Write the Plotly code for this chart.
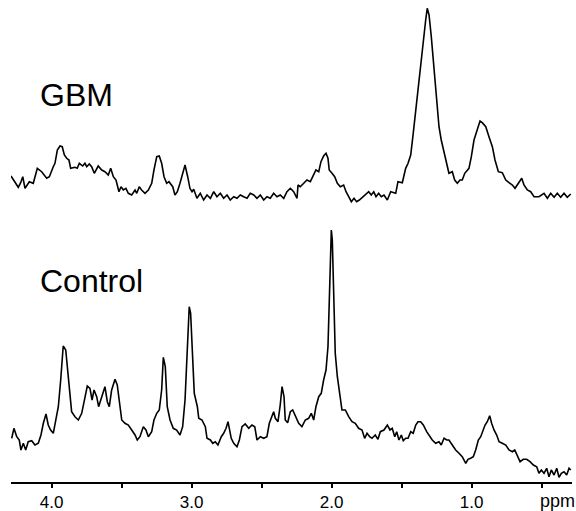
import plotly.graph_objects as go

# ---- GBM spectrum (chemical shift in ppm, intensity relative to its own baseline) ----
gbm_ppm = [
    4.290, 4.274, 4.254, 4.238, 4.221, 4.206, 4.190, 4.174, 4.159, 4.131,
    4.116, 4.102, 4.071, 4.035, 4.016, 3.999, 3.988, 3.976, 3.959, 3.940,
    3.924, 3.909, 3.892, 3.876, 3.864, 3.833, 3.817, 3.802, 3.778, 3.762,
    3.749, 3.731, 3.714, 3.695, 3.678, 3.667, 3.642, 3.619, 3.595, 3.578,
    3.559, 3.540, 3.531, 3.519, 3.504, 3.488, 3.469, 3.452, 3.428, 3.404,
    3.392, 3.374, 3.357, 3.333, 3.309, 3.285, 3.269, 3.249, 3.231, 3.214,
    3.197, 3.178, 3.162, 3.147, 3.135, 3.119, 3.102, 3.083, 3.064, 3.047,
    3.028, 3.012, 2.997,
    2.985, 2.962, 2.938, 2.914, 2.890, 2.866, 2.842, 2.819, 2.795, 2.771,
    2.747, 2.724, 2.699, 2.676, 2.652, 2.628, 2.604, 2.581, 2.556, 2.533,
    2.509, 2.485, 2.462, 2.438, 2.414, 2.390, 2.367, 2.342, 2.319, 2.295,
    2.271, 2.247, 2.240, 2.224, 2.199, 2.176, 2.152, 2.128, 2.112, 2.092,
    2.076, 2.057, 2.040, 2.026, 2.017, 1.997, 1.978, 1.959, 1.938, 1.914,
    1.897, 1.878, 1.859, 1.840, 1.821, 1.802, 1.778, 1.754, 1.735, 1.717,
    1.699, 1.683, 1.664, 1.645, 1.626,
    1.602, 1.578, 1.542, 1.526, 1.495, 1.471, 1.454, 1.435, 1.417, 1.399,
    1.381, 1.364, 1.345, 1.328, 1.317, 1.304, 1.288, 1.269, 1.252, 1.233,
    1.217, 1.197, 1.178, 1.162, 1.138, 1.121, 1.102, 1.083, 1.067, 1.049,
    1.019, 1.002, 0.983, 0.959, 0.940, 0.924, 0.899, 0.876, 0.852, 0.833,
    0.809, 0.781, 0.756, 0.733, 0.709, 0.690, 0.662, 0.642, 0.626, 0.602,
    0.578, 0.554, 0.519, 0.483, 0.459, 0.435, 0.411, 0.388, 0.364, 0.340,
    0.317, 0.292,
]
gbm_intensity = [
    24.0, 20.7, 16.0, 12.7, 17.3, 23.3, 11.7, 15.0, 18.3, 16.7,
    25.0, 31.7, 28.3, 21.7, 23.3, 30.0, 33.3, 36.7, 50.0, 54.0,
    53.3, 45.0, 41.7, 40.0, 31.7, 32.7, 31.7, 36.7, 34.0, 36.7,
    33.3, 36.0, 33.3, 26.7, 31.7, 34.0, 30.0, 28.3, 25.0, 31.7,
    23.3, 20.0, 15.0, 8.3, 13.3, 10.0, 11.7, 6.7, 5.0, 10.0,
    6.7, 13.3, 10.0, 6.7, 10.0, 16.7, 30.0, 43.3, 44.0, 36.7,
    23.3, 16.7, 18.3, 15.0, 13.3, 5.0, 8.3, 16.7, 26.7, 35.0,
    23.3, 11.7, 8.3,
    10.7, 1.7, 6.7, 0.0, 5.0, 1.7, 8.3, 3.3, 6.7, 1.7,
    5.0, 0.0, 3.3, 1.7, 5.0, 3.3, 1.7, 6.7, 5.0, 1.7,
    5.0, 0.0, 3.3, 1.7, 6.7, 3.3, 5.0, 1.7, 8.3, 11.7,
    8.3, 1.7, 15.0, 13.3, 16.7, 20.0, 18.3, 25.0, 30.0, 28.3,
    38.3, 44.0, 46.7, 41.7, 30.0, 26.7, 23.3, 16.7, 13.3, 15.0,
    8.3, 3.3, -1.7, 1.7, -1.7, 0.0, 3.3, 6.7, 8.3, 5.0,
    8.3, 3.3, 6.7, 3.3, 5.0,
    0.0, 8.3, 6.7, 18.3, 17.3, 31.7, 36.7, 45.0, 66.7, 90.0,
    113.3, 136.7, 163.3, 180.0, 191.7, 185.0, 163.3, 133.3, 100.0, 73.3,
    60.0, 48.3, 36.7, 26.7, 28.3, 20.0, 16.7, 20.0, 20.0, 26.7,
    31.7, 43.3, 60.0, 71.7, 79.0, 77.3, 73.3, 63.3, 53.3, 40.0,
    28.3, 27.3, 20.0, 17.3, 15.0, 11.7, 18.3, 21.7, 15.0, 10.0,
    8.3, 3.3, 3.3, 6.7, 1.7, 6.7, 2.7, 6.7, 2.7, 6.7,
    2.7, 6.0,
]

# ---- Control spectrum ----
control_ppm = [
    4.285, 4.269, 4.249, 4.231, 4.219, 4.202, 4.185, 4.167, 4.142, 4.119,
    4.095, 4.076, 4.059, 4.040, 4.024, 4.007, 3.988, 3.969, 3.952, 3.935,
    3.917, 3.899, 3.885, 3.869, 3.857, 3.833, 3.809, 3.785, 3.762, 3.745,
    3.726, 3.711, 3.697, 3.678, 3.664, 3.642, 3.619, 3.602, 3.588, 3.571,
    3.547, 3.531, 3.516, 3.499, 3.476, 3.452, 3.428, 3.404, 3.388, 3.369,
    3.345, 3.326, 3.309, 3.285, 3.269, 3.249, 3.231, 3.214, 3.202, 3.188,
    3.174, 3.154, 3.131, 3.107, 3.083, 3.064, 3.047, 3.035, 3.024, 3.017,
    3.007, 2.995, 2.981, 2.959,
    2.949, 2.926, 2.902, 2.890, 2.866, 2.849, 2.831, 2.812, 2.788, 2.771,
    2.754, 2.740, 2.731, 2.717, 2.699, 2.676, 2.659, 2.640, 2.617, 2.592,
    2.569, 2.549, 2.533, 2.509, 2.485, 2.462, 2.445, 2.426, 2.414, 2.402,
    2.383, 2.367, 2.354, 2.340, 2.331, 2.314, 2.295, 2.278, 2.259, 2.235,
    2.212, 2.188, 2.164, 2.145, 2.128, 2.112, 2.092, 2.074, 2.057, 2.040,
    2.026, 2.017, 2.007, 2.002, 1.995, 1.985, 1.974, 1.959, 1.945, 1.926,
    1.902, 1.878, 1.854, 1.831, 1.807, 1.783, 1.764, 1.747, 1.728, 1.712,
    1.688, 1.669, 1.652, 1.626,
    1.602, 1.583, 1.567, 1.549, 1.535, 1.519, 1.502, 1.488, 1.471, 1.454,
    1.435, 1.417, 1.399, 1.383, 1.364, 1.345, 1.321, 1.297, 1.281, 1.257,
    1.233, 1.217, 1.197, 1.178, 1.162, 1.138, 1.114, 1.090, 1.067, 1.042,
    1.026, 1.007, 0.988, 0.971, 0.952, 0.935, 0.919, 0.904, 0.888, 0.871,
    0.857, 0.840, 0.821, 0.804, 0.781, 0.756, 0.733, 0.709, 0.692, 0.674,
    0.654, 0.631, 0.607, 0.583, 0.559, 0.535, 0.519, 0.502, 0.483, 0.464,
    0.447, 0.431, 0.411, 0.392, 0.376, 0.359, 0.340, 0.321, 0.304, 0.292,
]
control_intensity = [
    43.7, 53.7, 45.3, 42.0, 32.0, 38.7, 32.0, 40.3, 41.3, 37.0,
    38.7, 47.0, 58.7, 68.0, 57.0, 52.0, 48.7, 62.0, 75.3, 102.0,
    136.0, 132.0, 112.0, 85.3, 70.3, 65.3, 62.0, 68.7, 85.3, 96.0,
    93.7, 82.0, 92.0, 85.3, 75.3, 85.3, 95.3, 80.3, 75.3, 92.0,
    102.7, 97.0, 82.0, 62.0, 58.7, 57.0, 52.0, 47.0, 42.0, 45.3,
    55.3, 52.0, 45.3, 50.3, 62.0, 68.7, 72.0, 92.0, 124.7, 115.3,
    75.3, 62.0, 53.7, 52.0, 47.0, 55.3, 82.0, 122.0, 162.0, 175.3,
    168.7, 128.7, 88.7, 75.3,
    63.7, 62.0, 55.3, 43.7, 42.0, 38.7, 40.3, 37.0, 45.3, 48.7,
    53.7, 60.3, 53.7, 43.7, 38.7, 35.3, 42.0, 55.3, 58.0, 53.7,
    57.0, 55.3, 42.0, 45.3, 43.7, 45.3, 58.7, 65.3, 70.3, 63.7,
    60.3, 77.0, 95.3, 85.3, 62.0, 59.3, 70.3, 72.0, 65.3, 58.7,
    55.3, 62.0, 63.7, 68.7, 62.0, 75.3, 85.3, 88.7, 102.0, 112.0,
    135.3, 178.7, 242.0, 252.0, 242.0, 178.7, 128.7, 105.3, 88.7, 72.0,
    72.0, 65.3, 60.3, 58.7, 53.7, 52.0, 43.7, 48.7, 45.3, 43.7,
    47.0, 42.7, 50.3, 52.0,
    57.0, 52.0, 53.7, 45.3, 50.3, 42.0, 47.0, 41.3, 43.7, 43.7,
    50.3, 48.7, 57.0, 60.3, 60.3, 57.0, 50.3, 45.3, 42.0, 38.7,
    40.3, 37.0, 43.7, 42.0, 42.0, 37.0, 32.0, 28.7, 25.3, 18.7,
    22.7, 23.7, 25.3, 32.0, 42.0, 45.3, 52.0, 57.0, 60.3, 66.3,
    58.7, 52.0, 47.0, 40.3, 38.7, 37.0, 32.0, 30.3, 32.0, 27.0,
    20.3, 22.7, 22.7, 20.3, 17.0, 15.3, 8.7, 12.0, 8.7, 13.7,
    5.3, 12.0, 7.0, 13.7, 4.7, 8.7, 10.3, 7.0, 13.7, 12.0,
]

tick_values = [4.0, 3.5, 3.0, 2.5, 2.0, 1.5, 1.0, 0.5]
tick_labels = ["4.0", "", "3.0", "", "2.0", "", "1.0", ""]
series_labels = ["GBM", "Control"]
axis_unit = "ppm"

assert len(gbm_ppm) == len(gbm_intensity)
assert len(control_ppm) == len(control_intensity)

GBM_OFFSET = 282  # vertical stacking offset of the GBM spectrum

FONT = "Liberation Sans, Arial, Helvetica, sans-serif"

fig = go.Figure()
fig.add_trace(go.Scatter(
    x=gbm_ppm, y=[v + GBM_OFFSET for v in gbm_intensity], mode="lines",
    line=dict(color="black", width=1.6), name=series_labels[0], hoverinfo="skip",
))
fig.add_trace(go.Scatter(
    x=control_ppm, y=control_intensity, mode="lines",
    line=dict(color="black", width=1.6), name=series_labels[1], hoverinfo="skip",
))

fig.update_layout(
    width=576, height=511,
    margin=dict(l=11, r=4, t=0, b=29),
    paper_bgcolor="white", plot_bgcolor="white",
    showlegend=False,
    font=dict(family=FONT, color="black"),
    xaxis=dict(
        range=[4.29, 0.283], showgrid=False, zeroline=False, automargin=False,
        showline=True, linecolor="black", linewidth=2,
        ticks="outside", ticklen=4, tickwidth=1.5, tickcolor="black",
        tickvals=tick_values, ticktext=tick_labels,
        tickfont=dict(family=FONT, size=17, color="black"),
    ),
    yaxis=dict(range=[0, 482], visible=False, showgrid=False, zeroline=False),
    annotations=[
        dict(text=series_labels[0], xref="paper", yref="paper", x=0.048, y=0.803,
             xanchor="left", yanchor="middle", showarrow=False,
             font=dict(family=FONT, size=32, color="black")),
        dict(text=series_labels[1], xref="paper", yref="paper", x=0.048, y=0.416,
             xanchor="left", yanchor="middle", showarrow=False,
             font=dict(family=FONT, size=32, color="black")),
        dict(text=axis_unit, xref="paper", yref="paper", x=0.975, y=0,
             xanchor="center", yanchor="top", yshift=-7, showarrow=False,
             font=dict(family=FONT, size=18, color="black")),
    ],
)

fig.write_html(
    "out.html",
    config={"displayModeBar": False},
    post_script="document.body.style.margin='0';document.body.style.padding='0';",
)
